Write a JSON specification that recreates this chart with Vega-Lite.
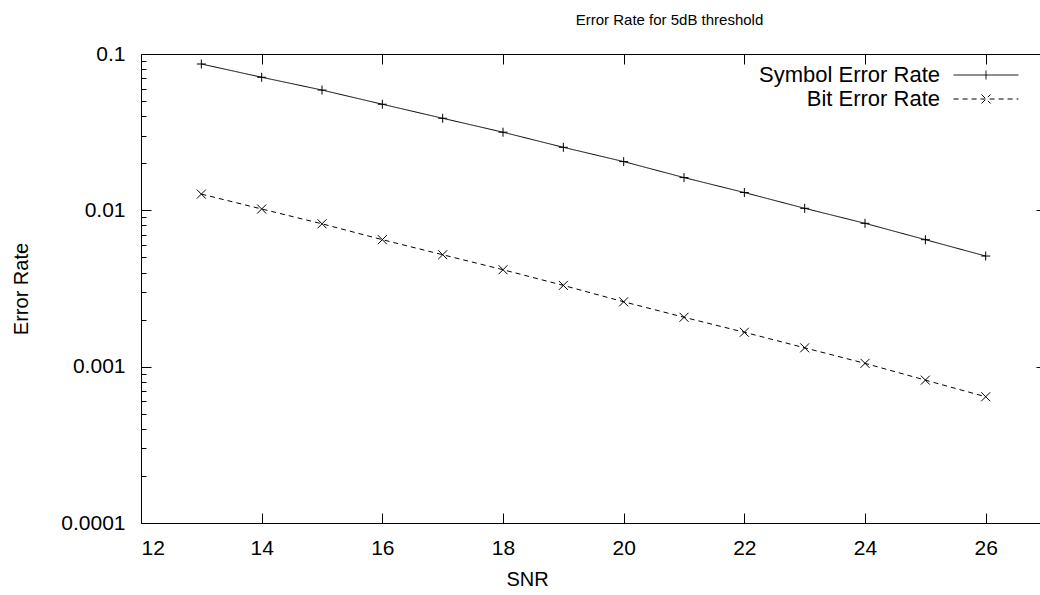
{
  "$schema": "https://vega.github.io/schema/vega-lite/v6.json",
  "width": 899,
  "height": 469,
  "autosize": {"type": "none"},
  "padding": {"left": 141, "top": 54, "right": 0, "bottom": 72},
  "background": "white",
  "config": {
    "view": {"stroke": null},
    "font": "Liberation Sans",
    "axis": {
      "grid": false,
      "domainColor": "black",
      "domainWidth": 1,
      "tickColor": "black",
      "tickWidth": 1,
      "labelColor": "black",
      "titleColor": "black",
      "labelFont": "Liberation Sans",
      "titleFont": "Liberation Sans",
      "titleFontWeight": "normal"
    },
    "legend": {
      "orient": "none",
      "title": null,
      "padding": 0,
      "labelFontSize": 22,
      "labelFont": "Liberation Sans",
      "labelColor": "black",
      "labelAlign": "right",
      "labelLimit": 0,
      "symbolSize": 81,
      "symbolStrokeColor": "black",
      "symbolStrokeWidth": 1,
      "symbolFillColor": "transparent"
    }
  },
  "title": {
    "text": "Error Rate for 5dB threshold",
    "font": "Liberation Sans",
    "fontSize": 15,
    "fontWeight": "normal",
    "color": "black",
    "anchor": "middle",
    "dx": 79,
    "offset": 15
  },
  "data": {
    "values": [
      {"snr": 13, "rate": 0.0863, "series": "Symbol Error Rate"},
      {"snr": 14, "rate": 0.0710, "series": "Symbol Error Rate"},
      {"snr": 15, "rate": 0.0588, "series": "Symbol Error Rate"},
      {"snr": 16, "rate": 0.0477, "series": "Symbol Error Rate"},
      {"snr": 17, "rate": 0.0388, "series": "Symbol Error Rate"},
      {"snr": 18, "rate": 0.0316, "series": "Symbol Error Rate"},
      {"snr": 19, "rate": 0.0253, "series": "Symbol Error Rate"},
      {"snr": 20, "rate": 0.0205, "series": "Symbol Error Rate"},
      {"snr": 21, "rate": 0.0162, "series": "Symbol Error Rate"},
      {"snr": 22, "rate": 0.0130, "series": "Symbol Error Rate"},
      {"snr": 23, "rate": 0.0103, "series": "Symbol Error Rate"},
      {"snr": 24, "rate": 0.00826, "series": "Symbol Error Rate"},
      {"snr": 25, "rate": 0.00649, "series": "Symbol Error Rate"},
      {"snr": 26, "rate": 0.00510, "series": "Symbol Error Rate"},
      {"snr": 13, "rate": 0.0127, "series": "Bit Error Rate"},
      {"snr": 14, "rate": 0.0102, "series": "Bit Error Rate"},
      {"snr": 15, "rate": 0.0082, "series": "Bit Error Rate"},
      {"snr": 16, "rate": 0.00649, "series": "Bit Error Rate"},
      {"snr": 17, "rate": 0.0052, "series": "Bit Error Rate"},
      {"snr": 18, "rate": 0.00417, "series": "Bit Error Rate"},
      {"snr": 19, "rate": 0.00331, "series": "Bit Error Rate"},
      {"snr": 20, "rate": 0.0026, "series": "Bit Error Rate"},
      {"snr": 21, "rate": 0.00207, "series": "Bit Error Rate"},
      {"snr": 22, "rate": 0.00166, "series": "Bit Error Rate"},
      {"snr": 23, "rate": 0.00132, "series": "Bit Error Rate"},
      {"snr": 24, "rate": 0.00105, "series": "Bit Error Rate"},
      {"snr": 25, "rate": 0.00082, "series": "Bit Error Rate"},
      {"snr": 26, "rate": 0.000642, "series": "Bit Error Rate"}
    ]
  },
  "layer": [
    {
      "transform": [{"filter": "datum.series === 'Symbol Error Rate'"}],
      "mark": {"type": "line", "color": "black", "strokeWidth": 1},
      "encoding": {
        "x": {
          "field": "snr", "type": "quantitative",
          "scale": {"domain": [12, 26.9], "nice": false, "zero": false},
          "axis": {
            "orient": "bottom",
            "values": [12, 14, 16, 18, 20, 22, 24, 26],
            "tickSize": -10,
            "labelPadding": 24,
            "labelFontSize": 21,
            "title": "SNR",
            "titleFontSize": 20,
            "titlePadding": 11,
            "titleX": 386,
            "titleAlign": "center"
          }
        },
        "y": {
          "field": "rate", "type": "quantitative",
          "scale": {"type": "log", "domain": [0.0001, 0.1], "nice": false},
          "axis": {
            "orient": "left",
            "values": [0.0001, 0.001, 0.01, 0.1],
            "format": "~g",
            "tickSize": -10,
            "labelPadding": 26,
            "labelFontSize": 21,
            "title": "Error Rate",
            "titleFontSize": 20,
            "titlePadding": 29
          }
        },
        "strokeDash": {
          "field": "series", "type": "nominal",
          "scale": {"domain": ["Symbol Error Rate"], "range": [[1, 0]]},
          "legend": {
            "legendX": 834,
            "legendY": 10,
            "labelOffset": -57,
            "symbolType": "M-7.2,0H7.2M0,-1V1"
          }
        }
      }
    },
    {
      "transform": [{"filter": "datum.series === 'Bit Error Rate'"}],
      "mark": {"type": "line", "strokeWidth": 1, "strokeDash": [5, 4]},
      "encoding": {
        "x": {"field": "snr", "type": "quantitative", "axis": null},
        "y": {"field": "rate", "type": "quantitative", "axis": null},
        "color": {
          "field": "series", "type": "nominal",
          "scale": {"domain": ["Bit Error Rate"], "range": ["black"]},
          "legend": {
            "legendX": 834,
            "legendY": 34,
            "labelOffset": -57,
            "symbolType": "M-7.2,0H7.2M-1,-1L1,1M-1,1L1,-1",
            "symbolDash": [5, 4]
          }
        }
      }
    },
    {
      "transform": [{"filter": "datum.series === 'Symbol Error Rate'"}],
      "mark": {"type": "point", "shape": "M-1,0H1M0,-1V1", "size": 81, "filled": false, "stroke": "black", "strokeWidth": 1, "opacity": 1},
      "encoding": {
        "x": {
          "field": "snr", "type": "quantitative",
          "axis": {
            "orient": "top",
            "values": [12, 14, 16, 18, 20, 22, 24, 26],
            "tickSize": -10,
            "labels": false,
            "title": null
          }
        },
        "y": {
          "field": "rate", "type": "quantitative",
          "axis": {
            "orient": "left",
            "values": [0.0002, 0.0003, 0.0004, 0.0005, 0.0006, 0.0007, 0.0008, 0.0009, 0.002, 0.003, 0.004, 0.005, 0.006, 0.007, 0.008, 0.009, 0.02, 0.03, 0.04, 0.05, 0.06, 0.07, 0.08, 0.09],
            "tickSize": -5,
            "labels": false,
            "domain": false,
            "title": null
          }
        }
      }
    },
    {
      "transform": [{"filter": "datum.series === 'Bit Error Rate'"}],
      "mark": {"type": "point", "shape": "M-1,-1L1,1M-1,1L1,-1", "size": 81, "filled": false, "stroke": "black", "strokeWidth": 1, "opacity": 1},
      "encoding": {
        "x": {"field": "snr", "type": "quantitative", "axis": null},
        "y": {
          "field": "rate", "type": "quantitative",
          "axis": {
            "orient": "right",
            "values": [0.001, 0.01],
            "tickSize": -4,
            "labels": false,
            "domain": false,
            "title": null
          }
        }
      }
    }
  ],
  "resolve": {"axis": {"x": "independent", "y": "independent"}}
}
